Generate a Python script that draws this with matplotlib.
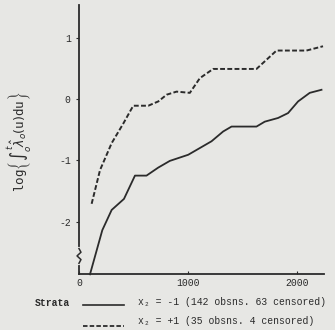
import numpy as np
import matplotlib.pyplot as plt

# strata x2 = -1 (solid)
t_neg = [101, 214, 300, 413, 514, 620, 727, 834, 1003, 1217, 1324, 1401, 1630,
         1706, 1828, 1920, 2012, 2119, 2227]
y_neg = [-2.86, -2.14, -1.81, -1.63, -1.25, -1.25, -1.12, -1.01, -0.91, -0.69,
         -0.53, -0.45, -0.45, -0.37, -0.31, -0.23, -0.04, 0.10, 0.15]

# strata x2 = +1 (dashed)
t_pos = [116, 193, 300, 407, 498, 636, 728, 805, 896, 1018, 1110, 1232, 1630,
         1814, 2089, 2241]
y_pos = [-1.71, -1.16, -0.72, -0.40, -0.11, -0.11, -0.04, 0.07, 0.12, 0.10,
         0.34, 0.49, 0.49, 0.79, 0.79, 0.86]

xticks = [0, 1000, 2000]
yticks = [-2, -1, 0, 1]
legend_labels = ['x\u2082 = -1 (142 obsns. 63 censored)',
                 'x\u2082 = +1 (35 obsns. 4 censored)']

BG = '#e7e7e4'
INK = '#2b2b2b'
MONO = ['Liberation Mono', 'DejaVu Sans Mono']

fig = plt.figure(figsize=(3.35, 3.30), dpi=100)
fig.set_facecolor(BG)
ax = fig.add_axes([79 / 335, 1 - 274 / 330, 245 / 335, 269 / 330])
ax.set_facecolor(BG)

ax.plot(t_neg, y_neg, color=INK, lw=1.3, clip_on=False)
ax.plot(t_pos, y_pos, color=INK, lw=1.4, dashes=(2.5, 1.2))

ax.set_xlim(0, 2250)
ax.set_ylim(-2.855, 1.533)
for s in ['top', 'right']:
    ax.spines[s].set_visible(False)
for s in ['left', 'bottom']:
    ax.spines[s].set_color(INK)
    ax.spines[s].set_linewidth(1.3)

ax.set_xticks(xticks)
ax.set_xticklabels([str(v) for v in xticks], family=MONO, fontsize=7, color=INK)
ax.set_yticks(yticks)
ax.set_yticklabels([str(v) for v in yticks], family=MONO, fontsize=7, color=INK)
ax.tick_params(axis='x', direction='in', length=2, pad=3, color=INK)
ax.tick_params(axis='y', direction='out', length=2, pad=4, color=INK)

# axis break on the y axis
ax.plot([0, 0], [-2.44, -2.68], color=BG, lw=3, clip_on=False, zorder=5)
zz_y = np.linspace(-2.44, -2.68, 5)
zz_x = [0, 18, -18, 18, 0]
ax.plot(zz_x, zz_y, color=INK, lw=1.1, clip_on=False, zorder=6)

fig.text(20 / 335, 1 - 142 / 330,
         r'$\mathtt{log}\left\{\int_{o}^{t}\hat{\lambda}_{o}(\mathtt{u})\mathtt{du}\right\}$',
         rotation=90, ha='center', va='center', fontsize=9, color=INK)

# legend drawn below the axes
fig.text(35 / 335, 1 - 303 / 330, 'Strata', family=MONO, fontsize=7,
         fontweight='bold', color=INK, va='center')
fig.add_artist(plt.Line2D([83 / 335, 124 / 335], [1 - 305 / 330] * 2,
                          color=INK, lw=1.2))
fig.add_artist(plt.Line2D([83 / 335, 124 / 335], [1 - 326 / 330] * 2,
                          color=INK, lw=1.3, dashes=(2.5, 1.2)))
fig.text(138 / 335, 1 - 302 / 330, legend_labels[0], family=MONO, fontsize=7,
         color=INK, va='center')
fig.text(138 / 335, 1 - 321 / 330, legend_labels[1], family=MONO, fontsize=7,
         color=INK, va='center')

fig.savefig('out.png', dpi=100, facecolor=BG)
